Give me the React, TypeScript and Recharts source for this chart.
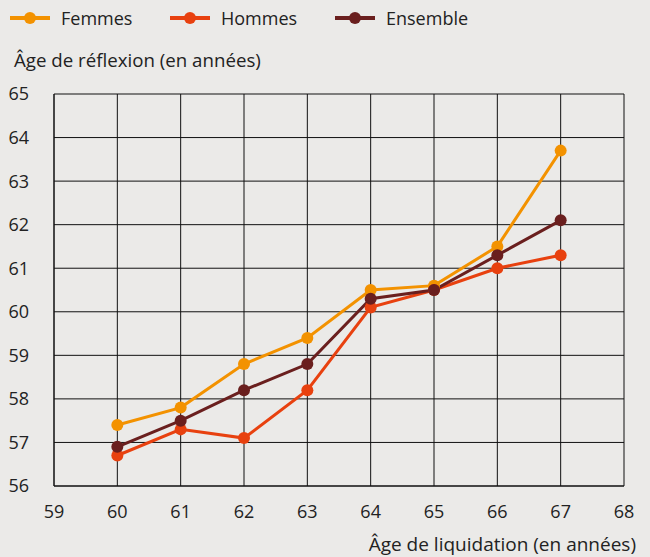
import React from "react";
import { LineChart, Line, XAxis, YAxis, CartesianGrid, Legend } from "recharts";

const ages = [60, 61, 62, 63, 64, 65, 66, 67];
const femmes = [57.4, 57.8, 58.8, 59.4, 60.5, 60.6, 61.5, 63.7];
const hommes = [56.7, 57.3, 57.1, 58.2, 60.1, 60.5, 61.0, 61.3];
const ensemble = [56.9, 57.5, 58.2, 58.8, 60.3, 60.5, 61.3, 62.1];
const xTicks = [59, 60, 61, 62, 63, 64, 65, 66, 67, 68];
const yTicks = [56, 57, 58, 59, 60, 61, 62, 63, 64, 65];

const seriesNames = ["Femmes", "Hommes", "Ensemble"];
const colors = ["#F39200", "#E8410F", "#6A1F1E"];

const data = ages.map((a, i) => ({
  age: a,
  Femmes: femmes[i],
  Hommes: hommes[i],
  Ensemble: ensemble[i],
}));

const FONT = "'Open Sans', Lato, sans-serif";
const TEXT = "#222";

const LegendContent = () => (
  <div style={{ position: "relative", height: 36, width: 650, fontFamily: FONT }}>
    {seriesNames.map((n, i) => {
      const lefts = [10, 170, 335];
      return (
        <div key={n} style={{ position: "absolute", left: lefts[i], top: 0, height: 36, display: "flex", alignItems: "center" }}>
          <svg width={40} height={14} style={{ display: "block" }}>
            <line x1={0} y1={7} x2={40} y2={7} stroke={colors[i]} strokeWidth={4} />
            <circle cx={20} cy={7} r={6} fill={colors[i]} />
          </svg>
          <span style={{ marginLeft: 11, fontSize: 18, color: TEXT, fontWeight: 400 }}>{n}</span>
        </div>
      );
    })}
  </div>
);

export default function App() {
  return (
    <div style={{ position: "absolute", left: 0, top: 0, width: 650, height: 557, background: "#EBEAE8" }}>
      <LineChart width={650} height={557} data={data} margin={{ top: 58, right: 26, bottom: 0, left: 0 }}>
        <Legend verticalAlign="top" align="left" content={<LegendContent />} wrapperStyle={{ top: 0, left: 0, width: 650, height: 36 }} />
        <CartesianGrid stroke="#111" strokeWidth={1} vertical horizontal />
        <XAxis
          dataKey="age"
          type="number"
          domain={[59, 68]}
          ticks={xTicks}
          interval={0}
          height={71}
          tickLine={false}
          axisLine={{ stroke: "#111" }}
          tickMargin={13}
          tick={{ fill: TEXT, fontSize: 18, fontFamily: FONT, fontWeight: 400 }}
          label={{
            content: () => (
              <text x={636} y={551} textAnchor="end" fill={TEXT} fontSize={19} fontFamily={FONT} fontWeight={400}>
                Âge de liquidation (en années)
              </text>
            ),
          }}
        />
        <YAxis
          type="number"
          domain={[56, 65]}
          ticks={yTicks}
          interval={0}
          width={54}
          tickLine={false}
          axisLine={{ stroke: "#111" }}
          tickMargin={19}
          tick={{ fill: TEXT, fontSize: 18, fontFamily: FONT, fontWeight: 400 }}
          label={{
            content: () => (
              <text x={14} y={67} textAnchor="start" fill={TEXT} fontSize={18.7} fontFamily={FONT} fontWeight={400}>
                Âge de réflexion (en années)
              </text>
            ),
          }}
        />
        {seriesNames.map((n, i) => (
          <Line
            key={n}
            dataKey={n}
            type="linear"
            stroke={colors[i]}
            strokeWidth={3}
            dot={{ r: 6, fill: colors[i], stroke: colors[i], strokeWidth: 0 }}
            activeDot={false}
            isAnimationActive={false}
          />
        ))}
      </LineChart>
    </div>
  );
}
